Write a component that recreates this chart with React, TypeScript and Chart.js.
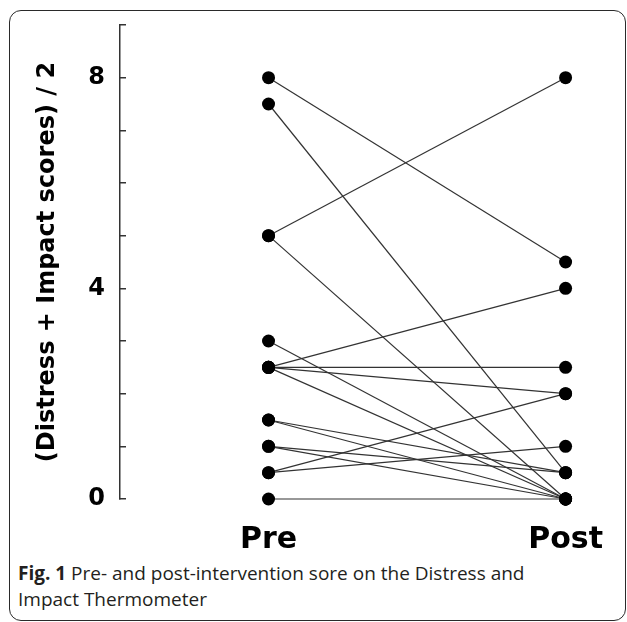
import React, { useEffect, useRef } from 'react';
import { Chart, registerables } from 'chart.js';

Chart.register(...registerables);

// ---- data ----
const categories = ['Pre', 'Post'];
const preScores = [8, 7.5, 5, 5, 3, 2.5, 2.5, 2.5, 2.5, 1.5, 1.5, 1, 1, 0.5, 0.5, 0];
const postScores = [4.5, 0.5, 8, 0, 0, 4, 2.5, 2, 0, 0.5, 0, 0.5, 0, 2, 1, 0];
const yLabeledTicks = [0, 4, 8];
const yAxisTitle = '(Distress + Impact scores) / 2';
const captionBold = 'Fig. 1';
const captionLine1 = ' Pre- and post-intervention sore on the Distress and';
const captionLine2 = 'Impact Thermometer';

const heavy = 'DejaVu Sans';

const zeroPad = (s: any) => {
  s.paddingTop = 0;
  s.paddingBottom = 0;
  s.paddingLeft = 0;
  s.paddingRight = 0;
};

export default function App() {
  const ref = useRef<HTMLCanvasElement>(null);

  useEffect(() => {
    const canvas = ref.current;
    if (!canvas) return;
    const chart = new Chart(canvas, {
      type: 'line',
      data: {
        datasets: preScores.map((p, i) => ({
          data: [
            { x: 0, y: p },
            { x: 1, y: postScores[i] },
          ],
          borderColor: '#333333',
          borderWidth: 1.2,
          pointRadius: 6.5,
          pointHoverRadius: 6.5,
          pointBackgroundColor: '#000000',
          pointBorderColor: '#000000',
          pointBorderWidth: 0,
          clip: false,
          tension: 0,
        })),
      },
      options: {
        animation: false,
        responsive: false,
        devicePixelRatio: 1,
        layout: { autoPadding: false, padding: { top: 25, right: 2, left: 0, bottom: 0 } },
        plugins: { legend: { display: false }, tooltip: { enabled: false } },
        scales: {
          x: {
            type: 'linear',
            min: -0.5,
            max: 1.2,
            grid: { display: false, drawTicks: false },
            border: { display: false },
            afterBuildTicks: (s: any) => {
              s.ticks = categories.map((_, i) => ({ value: i }));
            },
            ticks: {
              autoSkip: false,
              maxRotation: 0,
              padding: 23,
              color: '#000000',
              font: { family: heavy, size: 30, weight: 'bold' },
              callback: (v: any) => categories[v as number] ?? '',
            },
            afterFit: (s: any) => {
              s.height = 61;
              zeroPad(s);
            },
          },
          y: {
            type: 'linear',
            min: 0,
            max: 9,
            ticks: {
              stepSize: 1,
              autoSkip: false,
              padding: 21,
              color: '#000000',
              font: { family: heavy, size: 24, weight: 'bold' },
              callback: (v: any) => (yLabeledTicks.includes(v as number) ? String(v) : ''),
            },
            grid: {
              drawOnChartArea: false,
              drawTicks: true,
              tickLength: -6,
              color: '#333333',
              lineWidth: 1.5,
            },
            border: { display: true, color: '#333333', width: 1.5 },
            title: {
              display: true,
              text: yAxisTitle,
              color: '#000000',
              font: { family: heavy, size: 24, weight: 'bold' },
              padding: { top: 33, bottom: 0 },
            },
            afterFit: (s: any) => {
              s.width = 120;
              zeroPad(s);
            },
          },
        },
      },
    } as any);
    return () => chart.destroy();
  }, []);

  return (
    <div style={{ position: 'absolute', left: 0, top: 0, width: 627, height: 622, overflow: 'hidden', background: '#fff' }}>
      <div
        style={{
          position: 'absolute',
          left: 9,
          top: 10,
          width: 617,
          height: 611,
          boxSizing: 'border-box',
          border: '1.5px solid #2a2a2a',
          borderRadius: 12,
        }}
      />
      <canvas ref={ref} width={627} height={560} style={{ position: 'absolute', left: 0, top: 0 }} />
      <div
        style={{
          position: 'absolute',
          left: 18,
          top: 560,
          fontFamily: '"Open Sans", sans-serif',
          fontSize: 19,
          lineHeight: '26px',
          color: '#231f20',
          whiteSpace: 'nowrap',
        }}
      >
        <b>{captionBold}</b>
        {captionLine1}
        <br />
        {captionLine2}
      </div>
    </div>
  );
}
